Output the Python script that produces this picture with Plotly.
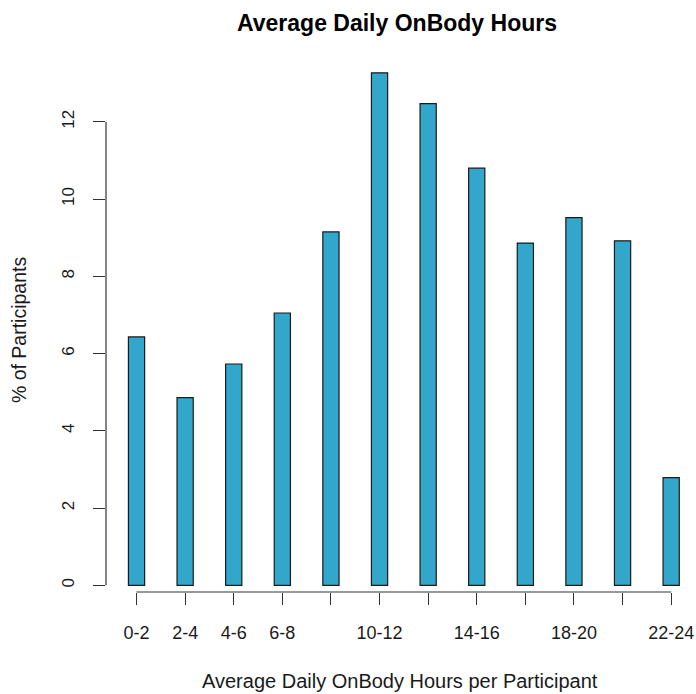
import plotly.graph_objects as go

# Data
hours = ["0-2", "2-4", "4-6", "6-8", "8-10", "10-12",
         "12-14", "14-16", "16-18", "18-20", "20-22", "22-24"]
pct_participants = [6.43, 4.86, 5.73, 7.05, 9.15, 13.27,
                    12.47, 10.80, 8.86, 9.52, 8.92, 2.79]
# R drops labels that would overlap, so only every other one past 6-8 shows
tick_labels = ["0-2", "2-4", "4-6", "6-8", "", "10-12",
               "", "14-16", "", "18-20", "", "22-24"]
y_ticks = [0, 2, 4, 6, 8, 10, 12]

FONT = "Liberation Sans, Arial, Helvetica, sans-serif"
BAR_FILL = "#33a7cb"
INK = "#1a1a1a"

fig = go.Figure(
    go.Bar(
        x=hours,
        y=pct_participants,
        marker=dict(color=BAR_FILL, line=dict(color=INK, width=1.2)),
        hovertemplate="%{x} h<br>%{y:.1f}%<extra></extra>",
    )
)

# R-style axis lines: they only run between the first and last tick
fig.add_shape(type="line", xref="x", yref="paper",
              x0=0, x1=len(hours) - 1, y0=0, y1=0,
              line=dict(color="#333333", width=1.2))
fig.add_shape(type="line", xref="paper", yref="y",
              x0=0, x1=0, y0=y_ticks[0], y1=y_ticks[-1],
              line=dict(color="#333333", width=1.2))

fig.update_xaxes(
    type="category",
    range=[-0.628, 11.47],
    tickmode="array",
    tickvals=hours,
    ticktext=tick_labels,
    ticks="outside",
    ticklen=12,
    tickwidth=1.2,
    tickcolor="#333333",
    ticklabelstandoff=12,
    tickfont=dict(family=FONT, size=18, color=INK),
    showline=False,
    showgrid=False,
    zeroline=False,
)
fig.update_yaxes(
    range=[-0.174, 13.86],
    tickmode="array",
    tickvals=y_ticks,
    tickangle=-90,
    ticks="outside",
    ticklen=12,
    tickwidth=1.2,
    tickcolor="#333333",
    ticklabelstandoff=12,
    tickfont=dict(family=FONT, size=17, color=INK),
    showline=False,
    showgrid=False,
    zeroline=False,
)

fig.update_layout(
    width=696,
    height=694,
    margin=dict(l=106, r=2, t=50, b=102, autoexpand=False),
    paper_bgcolor="white",
    plot_bgcolor="white",
    bargap=2 / 3,
    showlegend=False,
    title=dict(
        text="<b>Average Daily OnBody Hours</b>",
        font=dict(family=FONT, size=23, color="black"),
        x=397 / 696, xref="container", xanchor="center",
        y=1 - 23 / 694, yref="container", yanchor="middle",
    ),
    annotations=[
        dict(text="Average Daily OnBody Hours per Participant",
             xref="paper", yref="paper", x=0.5, y=-0.164,
             xanchor="center", yanchor="middle", showarrow=False,
             font=dict(family=FONT, size=20, color=INK)),
        dict(text="% of Participants",
             xref="paper", yref="paper", x=-0.148, y=0.485,
             xanchor="center", yanchor="middle", showarrow=False,
             textangle=-90,
             font=dict(family=FONT, size=19.5, color=INK)),
    ],
)

# the default page has an 8px body margin, which would push the figure off-window
fig.write_html(
    "out.html",
    config={"displayModeBar": False},
    post_script="document.body.style.margin='0';",
)
